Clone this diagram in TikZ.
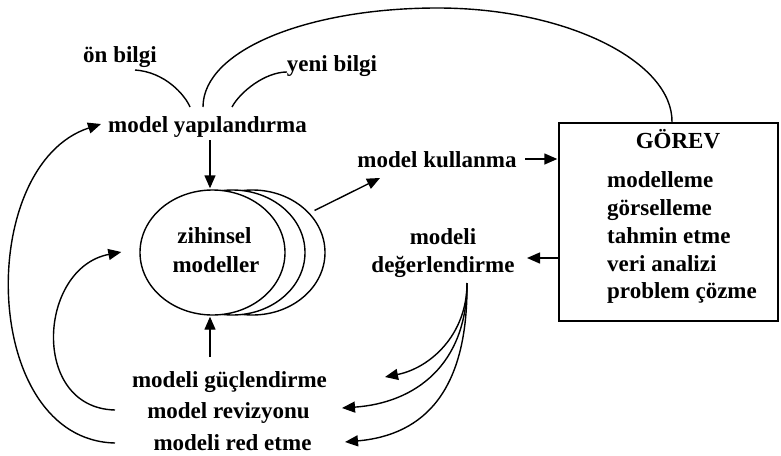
\documentclass[tikz,border=0pt]{standalone}
\usepackage{fontspec}
\setmainfont{Liberation Serif}
\usetikzlibrary{arrows.meta,calc,shapes.geometric}

\begin{document}
\begin{tikzpicture}[x=1pt,y=-1pt,
  lbl/.style={font=\fontsize{23}{28}\selectfont\bfseries, inner sep=0pt, anchor=base},
  lblw/.style={lbl, anchor=base west},
  conn/.style={line width=1.4pt},
  arr/.style={conn, -{Triangle[length=13pt,width=11pt]}},
  mind/.style={draw, line width=1.4pt, ellipse, fill=white, minimum width=145pt, minimum height=125pt, inner sep=0pt}]

\useasboundingbox (0,0) rectangle (781,455);

% stacked mental-model ellipses, back to front
\node[mind] (zm3) at (252.5,252.5) {};
\node[mind] (zm2) at (232.5,252.5) {};
\node[mind] (zm)  at (212.5,252.5) {};
\node[lbl] (zt1) at (214.5,243) {zihinsel};
\node[lbl] (zt2) at (216,272) {modeller};

% labels
\node[lbl] (on)   at (120,62)    {ön bilgi};
\node[lbl] (yeni) at (332,71)    {yeni bilgi};
\node[lbl] (myap) at (207.5,132) {model yapılandırma};
\node[lbl] (kull) at (437,167)   {model kullanma};
\node[lbl] (deg1) at (443,244)   {modeli};
\node[lbl] (deg2) at (443,272)   {değerlendirme};
\node[lbl] (guc)  at (229.5,387) {modeli güçlendirme};
\node[lbl] (rev)  at (228.5,418) {model revizyonu};
\node[lbl] (red)  at (232.5,450) {modeli red etme};

% task box
\node[draw, line width=1.4pt, minimum width=219pt, minimum height=198pt, inner sep=0pt] (gorev) at (668.5,222) {};
\node[lbl]  (gt) at (678,148) {GÖREV};
\node[lblw] (g1) at (607,187) {modelleme};
\node[lblw] (g2) at (607,215) {görselleme};
\node[lblw] (g3) at (607,243) {tahmin etme};
\node[lblw] (g4) at (607,271) {veri analizi};
\node[lblw] (g5) at (607,298) {problem çözme};

% inputs into model construction
\draw[conn] ($(on.base)+(15,8)$) .. controls (165,72) and (185,95) .. ($(myap.base)+(-17.5,-25)$);
\draw[conn] ($(yeni.base)+(-45,1)$) .. controls (265,72) and (240,92) .. ($(myap.base)+(24.5,-25)$);
\draw[conn] ($(myap.base)+(-4.5,-25)$) .. controls (203,50) and (308,8) .. (437.5,8)
            .. controls (567,8) and (673,62) .. ($(gorev.north)+(3.5,0)$);

% main flow
\draw[arr] ($(myap.base)+(2.5,8)$) -- ($(zm.north)+(-2.5,-1)$);
\draw[arr] ($(zm3.center)+(62,-42)$) -- ($(kull.base)+(-57,11)$);
\draw[arr] ($(kull.base)+(88,-8)$) -- ($(gorev.west)+(-1,-63)$);
\draw[arr] ($(gorev.west)+(0,36)$) -- ($(deg2.base)+(84,-14)$);

% evaluation outcomes
\draw[arr] ($(deg2.base)+(24,11)$) .. controls (467,335) and (430,368) .. ($(guc.base)+(155.5,-10)$);
\draw[arr] ($(deg2.base)+(24,11)$) .. controls (467,365) and (415,403) .. ($(rev.base)+(113.5,-10)$);
\draw[arr] ($(deg2.base)+(24,11)$) .. controls (468,390) and (425,435) .. ($(red.base)+(112.5,-8)$);

% feedback into the mental model
\draw[arr] ($(guc.base)+(-19.5,-30)$) -- ($(zm.south)+(-2.5,1)$);
\draw[arr] ($(rev.base)+(-113.5,-8)$) .. controls (30,408) and (38,268) .. ($(zm.west)+(-18,-0.5)$);
\draw[arr] ($(red.base)+(-117.5,-7)$) .. controls (-20,440) and (-25,165) .. ($(myap.base)+(-106.5,-8)$);

\end{tikzpicture}
\end{document}
